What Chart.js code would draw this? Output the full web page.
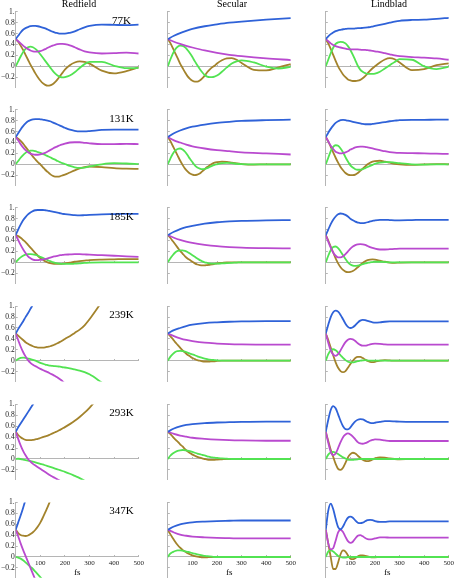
<!DOCTYPE html>
<html>
<head>
<meta charset="utf-8">
<script src="https://cdn.jsdelivr.net/npm/chart.js@4.4.1/dist/chart.umd.min.js"></script>
<style>
  body { margin: 0; background: #fff; width: 454px; height: 579px; position: relative; overflow: hidden; }
  canvas { position: absolute; }
  .txt { position: absolute; font-family: "Liberation Serif", serif; color: #000; white-space: nowrap; line-height: 1; }
</style>
</head>
<body>
<script>
// time grids (fs)
const T  = [0,10,20,30,40,50,60,70,80,90,100,110,120,130,140,150,160,170,180,190,200,220,240,260,280,300,350,400,450,500];
const TC = [0,25,50,75,100,150,200,250,300,400,500];

const methods = ['Redfield', 'Secular', 'Lindblad'];
const temps = ['77K', '131K', '185K', '239K', '293K', '347K'];
const xTickVals = [100, 200, 300, 400, 500];
const yTickVals = [-0.2, 0, 0.2, 0.4, 0.6, 0.8, 1];
const yTickText = ['\u22120.2', '0', '0.2', '0.4', '0.6', '0.8', '1.'];
const seriesColors = ['#2f62d8', '#b94acf', '#52e352', '#a3832c'];

// 77K
const red77Blue  = [.50,.56,.62,.67,.70,.72,.735,.74,.74,.735,.725,.71,.695,.675,.655,.635,.62,.61,.60,.60,.60,.615,.64,.68,.715,.74,.765,.76,.755,.765];
const red77Mag   = [.50,.46,.42,.38,.345,.315,.29,.275,.27,.27,.28,.295,.315,.34,.36,.38,.395,.405,.41,.41,.405,.385,.35,.31,.275,.255,.235,.24,.25,.235];
const red77Green = [0,.09,.18,.26,.32,.35,.36,.35,.32,.28,.22,.16,.10,.04,-.02,-.08,-.13,-.17,-.195,-.205,-.20,-.17,-.11,-.03,.04,.08,.08,.01,-.035,-.03];
const red77Brown = [.50,.45,.38,.30,.21,.12,.03,-.05,-.13,-.20,-.26,-.31,-.34,-.355,-.35,-.33,-.29,-.24,-.18,-.12,-.06,.02,.07,.09,.08,.05,-.08,-.13,-.09,-.02];
const sec77Blue  = [.50,.56,.61,.65,.685,.735,.77,.80,.82,.855,.885];
const sec77Mag   = [.50,.45,.41,.375,.345,.29,.245,.21,.185,.145,.115];
const sec77Green = [0,.12,.23,.31,.36,.38,.375,.35,.30,.24,.17,.09,.02,-.05,-.11,-.16,-.19,-.20,-.20,-.19,-.17,-.10,-.02,.05,.09,.11,.07,-.005,-.04,-.01];
const sec77Brown = [.50,.43,.34,.24,.15,.05,-.03,-.11,-.18,-.23,-.265,-.28,-.28,-.26,-.22,-.17,-.11,-.06,-.02,.01,.05,.11,.145,.15,.12,.06,-.065,-.075,-.02,.04];
const lin77Blue  = [.50,.55,.59,.62,.645,.66,.67,.68,.685,.69,.69,.69,.695,.70,.70,.705,.71,.715,.72,.73,.74,.76,.78,.80,.82,.835,.85,.855,.87,.89];
const lin77Mag   = [.50,.46,.42,.39,.37,.355,.345,.335,.325,.315,.31,.31,.31,.31,.305,.30,.30,.295,.29,.285,.275,.26,.24,.22,.20,.185,.17,.16,.145,.12];
const lin77Green = [0,.12,.24,.34,.41,.44,.45,.445,.42,.37,.30,.21,.11,.01,-.06,-.10,-.125,-.14,-.14,-.14,-.135,-.10,-.04,.02,.08,.13,.12,0,-.05,-.005];
const lin77Brown = [.50,.42,.32,.21,.10,0,-.08,-.15,-.20,-.24,-.26,-.27,-.27,-.265,-.25,-.22,-.18,-.13,-.08,-.035,0,.07,.125,.15,.13,.07,-.07,-.05,.02,.055];

// 131K
const red131Blue  = [.50,.57,.64,.70,.75,.79,.81,.825,.83,.83,.825,.82,.81,.80,.79,.77,.75,.73,.71,.69,.67,.635,.615,.605,.605,.61,.63,.635,.635,.635];
const red131Mag   = [.50,.44,.37,.31,.26,.22,.195,.18,.175,.175,.18,.195,.21,.235,.26,.285,.31,.33,.35,.365,.38,.40,.405,.405,.395,.385,.37,.37,.375,.37];
const red131Green = [0,.06,.12,.17,.21,.24,.25,.25,.24,.225,.21,.19,.17,.15,.13,.105,.085,.06,.04,.02,.005,-.03,-.055,-.065,-.06,-.04,0,.02,.015,.005];
const red131Brown = [.50,.47,.43,.38,.32,.26,.20,.14,.09,.04,0,-.05,-.10,-.14,-.18,-.21,-.225,-.225,-.22,-.205,-.19,-.15,-.11,-.075,-.05,-.04,-.05,-.07,-.08,-.085];
const sec131Blue  = [.50,.57,.62,.66,.69,.73,.76,.78,.795,.81,.82];
const sec131Mag   = [.50,.44,.40,.36,.33,.29,.26,.24,.22,.20,.18];
const sec131Green = [0,.10,.19,.25,.28,.29,.27,.23,.17,.10,.04,-.02,-.06,-.08,-.09,-.085,-.07,-.05,-.03,-.01,0,.02,.025,.02,.01,.005,0,0,0,0];
const sec131Brown = [.50,.43,.34,.25,.16,.07,-.01,-.08,-.13,-.17,-.19,-.20,-.19,-.17,-.13,-.09,-.05,-.02,.01,.03,.04,.05,.045,.03,.015,.005,-.005,0,0,0];
const lin131Blue  = [.50,.58,.65,.71,.76,.79,.81,.815,.81,.80,.79,.78,.77,.76,.75,.74,.735,.735,.735,.74,.745,.76,.775,.79,.80,.81,.815,.815,.82,.82];
const lin131Mag   = [.50,.42,.34,.28,.23,.21,.20,.205,.22,.24,.27,.29,.31,.32,.325,.325,.32,.31,.30,.29,.28,.26,.24,.225,.215,.21,.205,.20,.195,.19];
const lin131Green = [0,.12,.24,.32,.35,.34,.29,.22,.13,.05,-.02,-.06,-.09,-.10,-.10,-.09,-.07,-.05,-.03,-.01,.01,.03,.04,.04,.03,.02,0,-.005,0,0];
const lin131Brown = [.50,.42,.32,.22,.12,.03,-.05,-.11,-.16,-.19,-.20,-.20,-.19,-.16,-.12,-.08,-.04,0,.03,.05,.06,.065,.05,.03,.01,0,-.01,0,.005,0];

// 185K
const red185Blue  = [.50,.60,.69,.77,.83,.88,.915,.94,.955,.96,.96,.96,.955,.95,.94,.93,.92,.91,.90,.89,.885,.875,.865,.86,.865,.87,.88,.885,.89,.89];
const red185Mag   = [.50,.41,.32,.24,.17,.11,.075,.05,.04,.04,.045,.05,.06,.07,.085,.10,.11,.12,.13,.135,.14,.145,.15,.15,.145,.14,.13,.12,.11,.10];
const red185Green = [0,.05,.09,.12,.14,.15,.15,.145,.135,.12,.10,.08,.06,.04,.02,.005,-.01,-.02,-.025,-.03,-.03,-.03,-.025,-.02,-.01,-.005,0,0,0,0];
const red185Brown = [.50,.48,.45,.41,.37,.32,.27,.22,.17,.12,.08,.05,.02,0,-.015,-.025,-.03,-.03,-.03,-.025,-.02,-.005,.01,.02,.03,.04,.05,.055,.06,.06];
const sec185Blue  = [.50,.56,.61,.645,.67,.71,.735,.75,.76,.77,.775];
const sec185Mag   = [.50,.45,.41,.38,.355,.32,.295,.28,.27,.26,.255];
const sec185Green = [0,.07,.13,.18,.21,.22,.22,.21,.19,.16,.13,.10,.07,.04,.02,0,-.01,-.02,-.025,-.025,-.025,-.02,-.015,-.01,-.005,0,0,0,0,0];
const sec185Brown = [.50,.45,.39,.33,.27,.21,.16,.11,.07,.04,.01,-.02,-.04,-.05,-.055,-.055,-.05,-.045,-.04,-.03,-.02,-.01,0,0,0,0,0,0,0,0];
const lin185Blue  = [.50,.60,.70,.78,.84,.88,.895,.89,.87,.84,.80,.77,.745,.73,.72,.72,.725,.735,.75,.76,.77,.78,.78,.775,.77,.77,.775,.78,.78,.78];
const lin185Mag   = [.50,.38,.27,.18,.12,.09,.09,.11,.15,.20,.25,.29,.315,.33,.335,.33,.32,.30,.28,.265,.25,.235,.235,.24,.245,.25,.25,.25,.25,.25];
const lin185Green = [0,.12,.22,.28,.29,.26,.20,.13,.06,0,-.04,-.06,-.065,-.06,-.05,-.035,-.02,-.01,0,.005,.01,.01,.005,0,0,0,0,0,0,0];
const lin185Brown = [.50,.40,.29,.18,.07,-.02,-.09,-.14,-.17,-.18,-.175,-.16,-.13,-.09,-.05,-.01,.02,.04,.05,.055,.05,.03,.01,-.005,-.01,-.005,0,0,0,0];

// 239K
const red239Blue  = [.50,.58,.65,.72,.80,.87,.95,1.03,1.12];
const red239Mag   = [.50,.38,.26,.16,.08,.01,-.04,-.075,-.10,-.125,-.15,-.17,-.19,-.21,-.235,-.255,-.28,-.31,-.34,-.375,-.42];
const red239Green = [0,.03,.05,.055,.05,.04,.03,.015,0,-.02,-.04,-.055,-.07,-.08,-.09,-.095,-.10,-.105,-.11,-.12,-.125,-.14,-.16,-.18,-.21,-.25,-.40];
const red239Brown = [.50,.46,.42,.38,.34,.31,.285,.265,.25,.24,.24,.24,.245,.255,.265,.28,.30,.32,.345,.37,.40,.45,.51,.57,.65,.76,1.08];
const sec239Blue  = [.50,.56,.60,.635,.66,.69,.705,.715,.72,.725,.725];
const sec239Mag   = [.50,.45,.41,.38,.36,.33,.315,.305,.30,.295,.295];
const sec239Green = [0,.07,.12,.16,.175,.18,.175,.165,.15,.13,.115,.10,.08,.065,.05,.04,.03,.02,.015,.01,.005,0,0,0,0,0,0,0,0,0];
const sec239Brown = [.50,.45,.40,.34,.29,.24,.19,.15,.11,.08,.05,.03,.01,0,-.01,-.015,-.015,-.015,-.01,-.01,-.005,0,0,0,0,0,0,0,0,0];
const lin239Blue  = [.50,.66,.80,.89,.92,.90,.84,.76,.68,.62,.60,.615,.65,.70,.735,.75,.745,.73,.715,.705,.70,.705,.715,.72,.72,.72,.72,.72,.72,.72];
const lin239Mag   = [.50,.33,.19,.11,.09,.12,.19,.27,.34,.385,.40,.39,.36,.32,.29,.275,.275,.285,.30,.31,.315,.31,.30,.295,.295,.295,.295,.295,.295,.295];
const lin239Green = [0,.12,.19,.21,.19,.15,.10,.05,.01,-.02,-.03,-.03,-.02,-.01,0,.005,.01,.005,0,0,0,0,0,0,0,0,0,0,0,0];
const lin239Brown = [.50,.38,.24,.10,-.03,-.13,-.19,-.21,-.19,-.13,-.06,0,.05,.07,.07,.05,.02,-.005,-.02,-.025,-.02,0,.01,.005,0,0,0,0,0,0];

// 293K
const red293Blue  = [.50,.58,.65,.72,.79,.86,.93,1.0,1.08];
const red293Mag   = [.50,.37,.25,.15,.07,0,-.05,-.09,-.12,-.15,-.18,-.21,-.24,-.27,-.30,-.325,-.35,-.375,-.40];
const red293Green = [0,.005,0,-.01,-.02,-.03,-.04,-.05,-.06,-.075,-.09,-.10,-.115,-.13,-.145,-.16,-.175,-.19,-.205,-.22,-.235,-.27,-.31,-.35,-.40];
const red293Brown = [.50,.44,.40,.37,.35,.345,.345,.35,.36,.37,.385,.40,.415,.43,.45,.47,.49,.51,.535,.56,.585,.64,.70,.77,.85,.94,1.2];
const sec293Blue  = [.50,.56,.60,.625,.64,.66,.67,.675,.68,.685,.685];
const sec293Mag   = [.50,.46,.43,.41,.39,.37,.355,.345,.34,.335,.335];
const sec293Green = [0,.06,.10,.13,.15,.16,.165,.16,.155,.145,.13,.115,.10,.09,.075,.065,.05,.04,.03,.025,.02,.01,.005,0,0,0,0,0,0,0];
const sec293Brown = [.50,.46,.41,.36,.32,.27,.23,.18,.14,.11,.08,.06,.04,.025,.01,0,-.01,-.015,-.015,-.015,-.01,-.005,0,0,0,0,0,0,0,0];
const lin293Blue  = [.50,.72,.90,.97,.93,.82,.70,.60,.55,.545,.58,.64,.69,.72,.73,.725,.705,.68,.665,.66,.665,.68,.695,.695,.69,.685,.68,.68,.68,.68];
const lin293Mag   = [.50,.30,.13,.07,.10,.20,.31,.40,.45,.47,.45,.41,.36,.31,.285,.28,.29,.31,.335,.35,.36,.355,.34,.33,.33,.33,.33,.33,.33,.33];
const lin293Green = [0,.08,.12,.13,.115,.09,.06,.03,.01,-.01,-.015,-.015,-.01,-.005,0,0,0,0,0,0,0,0,0,0,0,0,0,0,0,0];
const lin293Brown = [.50,.33,.17,.04,-.09,-.18,-.20,-.16,-.07,.03,.09,.115,.10,.06,.02,-.015,-.035,-.04,-.03,-.01,.01,.03,.025,.01,0,-.005,0,0,0,0];

// 347K
const red347Blue  = [.50,.63,.76,.90,1.05];
const red347Mag   = [.50,.38,.25,.13,.02,-.09,-.20,-.31,-.42];
const red347Green = [0,-.01,-.03,-.06,-.10,-.14,-.18,-.22,-.27,-.32,-.37,-.42];
const red347Brown = [.50,.44,.405,.39,.385,.395,.42,.455,.50,.56,.63,.72,.82,.92,1.03];
const sec347Blue  = [.50,.56,.60,.62,.635,.65,.66,.665,.67,.67,.67];
const sec347Mag   = [.50,.45,.41,.39,.375,.36,.35,.345,.34,.34,.34];
const sec347Green = [0,.06,.09,.11,.12,.12,.115,.105,.095,.085,.07,.06,.05,.04,.03,.02,.015,.01,.005,0,0,0,0,0,0,0,0,0,0,0];
const sec347Brown = [.50,.42,.35,.28,.22,.17,.13,.10,.07,.05,.03,.015,.005,0,-.005,-.005,-.005,0,0,0,0,0,0,0,0,0,0,0,0,0];
const lin347Blue  = [.50,.85,.98,.88,.70,.55,.51,.56,.65,.72,.74,.72,.67,.63,.62,.63,.655,.675,.68,.675,.66,.645,.645,.655,.655,.655,.655,.655,.655,.655];
const lin347Mag   = [.50,.25,.14,.16,.30,.45,.50,.46,.37,.29,.26,.28,.34,.39,.40,.38,.35,.33,.325,.33,.34,.36,.36,.355,.355,.355,.355,.355,.355,.355];
const lin347Green = [0,.10,.12,.10,.06,.02,0,-.01,-.01,0,0,0,0,0,0,0,0,0,0,0,0,0,0,0,0,0,0,0,0,0];
const lin347Brown = [.50,.25,0,-.22,-.22,-.10,.05,.12,.10,.03,-.03,-.04,-.02,.01,.03,.03,.02,.01,0,-.005,-.005,0,0,0,0,0,0,0,0,0];

// one row per temperature, one entry per method: [blue, magenta, green, brown]
const grid = [
    [[red77Blue, red77Mag, red77Green, red77Brown], [sec77Blue, sec77Mag, sec77Green, sec77Brown], [lin77Blue, lin77Mag, lin77Green, lin77Brown]],
    [[red131Blue, red131Mag, red131Green, red131Brown], [sec131Blue, sec131Mag, sec131Green, sec131Brown], [lin131Blue, lin131Mag, lin131Green, lin131Brown]],
    [[red185Blue, red185Mag, red185Green, red185Brown], [sec185Blue, sec185Mag, sec185Green, sec185Brown], [lin185Blue, lin185Mag, lin185Green, lin185Brown]],
    [[red239Blue, red239Mag, red239Green, red239Brown], [sec239Blue, sec239Mag, sec239Green, sec239Brown], [lin239Blue, lin239Mag, lin239Green, lin239Brown]],
    [[red293Blue, red293Mag, red293Green, red293Brown], [sec293Blue, sec293Mag, sec293Green, sec293Brown], [lin293Blue, lin293Mag, lin293Green, lin293Brown]],
    [[red347Blue, red347Mag, red347Green, red347Brown], [sec347Blue, sec347Mag, sec347Green, sec347Brown], [lin347Blue, lin347Mag, lin347Green, lin347Brown]]
];

// secular populations were read on the coarse grid
const coarse = new Set([sec77Blue, sec77Mag, sec131Blue, sec131Mag, sec185Blue, sec185Mag,
    sec239Blue, sec239Mag, sec293Blue, sec293Mag, sec347Blue, sec347Mag]);

// layout
const colZeroX = [15.7, 167.8, 325.8];
const rowZeroY = [66.3, 164.3, 262.3, 360.7, 459.0, 557.0];
const PLOT_W = 123;
const UNIT = 54.5;
const Y_MIN = -0.38, Y_MAX = 1.0;
const AXIS = '#b5b5b5';
const SERIF = '"Liberation Serif", serif';

function pts(vals) {
    const t = coarse.has(vals) ? TC : T;
    return vals.map((v, i) => ({ x: t[i], y: v }));
}

function addText(txt, cx, baseline, size) {
    const d = document.createElement('div');
    d.className = 'txt';
    d.textContent = txt;
    d.style.fontSize = size + 'px';
    d.style.top = (baseline - 0.84 * size) + 'px';
    d.style.left = cx + 'px';
    d.style.transform = 'translateX(-50%)';
    document.body.appendChild(d);
}

function makePanel(r, c) {
    const plotLeft = colZeroX[c];
    const plotTop = rowZeroY[r] - UNIT * Y_MAX;
    const plotH = UNIT * (Y_MAX - Y_MIN);
    const cl = Math.floor(plotLeft) - 22;
    const ct = Math.floor(plotTop) - 8;
    const W = Math.ceil(plotLeft - cl + PLOT_W + 14);
    const H = Math.ceil(plotTop - ct + plotH + 18);
    const yAxisW = plotLeft - cl;

    const cv = document.createElement('canvas');
    cv.width = W; cv.height = H;
    cv.style.left = cl + 'px';
    cv.style.top = ct + 'px';
    document.body.appendChild(cv);

    const bottomRow = r === rowZeroY.length - 1;

    new Chart(cv, {
        type: 'line',
        data: {
            datasets: grid[r][c].map((vals, k) => ({
                data: pts(vals),
                borderColor: seriesColors[k],
                borderWidth: 1.8,
                pointRadius: 0,
                fill: false,
                cubicInterpolationMode: 'monotone'
            }))
        },
        options: {
            responsive: false,
            animation: false,
            events: [],
            layout: {
                padding: {
                    left: 0,
                    top: plotTop - ct,
                    right: W - yAxisW - PLOT_W,
                    bottom: H - (plotTop - ct) - plotH
                }
            },
            plugins: { legend: { display: false }, tooltip: { enabled: false } },
            scales: {
                x: {
                    type: 'linear', min: 0, max: 500,
                    position: { y: 0 },
                    afterFit: s => { s.height = 0; },
                    afterBuildTicks: s => { s.ticks = xTickVals.map(v => ({ value: v })); },
                    grid: { drawOnChartArea: false, tickLength: -2, color: AXIS },
                    border: { color: AXIS, width: 1 },
                    ticks: {
                        display: bottomRow, autoSkip: false, maxRotation: 0, padding: 4,
                        color: '#222', font: { family: SERIF, size: 7 },
                        callback: v => String(v)
                    }
                },
                y: {
                    type: 'linear', min: Y_MIN, max: Y_MAX,
                    position: 'left',
                    afterFit: s => { s.width = yAxisW; },
                    afterBuildTicks: s => { s.ticks = yTickVals.map(v => ({ value: v })); },
                    grid: { drawOnChartArea: false, tickLength: -2, color: AXIS },
                    border: { color: AXIS, width: 1 },
                    ticks: {
                        display: c === 0, padding: 3,
                        color: '#222', font: { family: SERIF, size: 7.5 },
                        callback: (v, i) => yTickText[i]
                    }
                }
            }
        }
    });
}

for (let r = 0; r < temps.length; r++) {
    for (let c = 0; c < methods.length; c++) makePanel(r, c);
}

// column titles, temperatures, axis names
const titleX = [79, 232, 389];
methods.forEach((m, c) => addText(m, titleX[c], 7, 10));
temps.forEach((t, r) => addText(t, 121.5, rowZeroY[r] - 42.3, 11));
colZeroX.forEach(x => addText('fs', x + PLOT_W / 2, 576, 9));
</script>
</body>
</html>
